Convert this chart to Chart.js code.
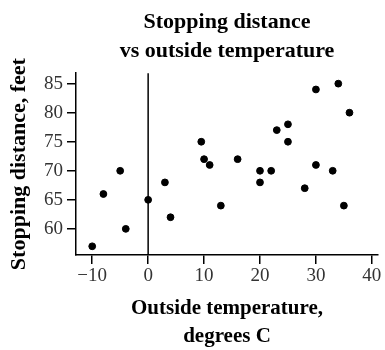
<!DOCTYPE html>
<html>
<head>
<meta charset="utf-8">
<script src="https://cdn.jsdelivr.net/npm/chart.js@4/dist/chart.umd.min.js"></script>
<style>
  html, body { margin: 0; padding: 0; background: #fff; }
  #wrap { width: 385px; height: 350px; }
</style>
</head>
<body>
<div id="wrap"><canvas id="myChart" width="385" height="350"></canvas></div>
<script>
// readings
const temperature = [-10, -8, -5, -4, 0, 3, 4, 9.5, 10, 11, 13, 16, 20, 20, 22, 23, 25, 25, 28, 30, 30, 33, 34, 35, 36];
const distance = [57, 66, 70, 60, 65, 68, 62, 75, 72, 71, 64, 72, 70, 68, 70, 77, 78, 75, 67, 84, 71, 70, 85, 64, 80];
const xTicks = [-10, 0, 10, 20, 30, 40];
const yTicks = [60, 65, 70, 75, 80, 85];

const serif = "'Liberation Serif', 'Times New Roman', serif";

const points = temperature.map((t, i) => ({ x: t, y: distance[i] }));

// vertical line at 0 degrees
const zeroLine = {
  id: "zeroLine",
  beforeDatasetsDraw(chart) {
    const { ctx, chartArea, scales } = chart;
    const x = scales.x.getPixelForValue(0);
    ctx.save();
    ctx.strokeStyle = "#000";
    ctx.lineWidth = 1.5;
    ctx.beginPath();
    ctx.moveTo(x, chartArea.top);
    ctx.lineTo(x, chartArea.bottom);
    ctx.stroke();
    ctx.restore();
  },
};

const config = {
  type: "scatter",
  data: {
    datasets: [
      {
        data: points,
        backgroundColor: "#000",
        borderColor: "#000",
        pointRadius: 3.4,
        pointHoverRadius: 3.4,
      },
    ],
  },
  options: {
    responsive: false,
    animation: false,
    layout: { padding: { left: 0, right: 7, top: 0, bottom: 0 } },
    plugins: {
      legend: { display: false },
      tooltip: { enabled: false },
      title: {
        display: true,
        fullSize: false,
        text: ["Stopping distance", "vs outside temperature"],
        color: "#000",
        font: { family: serif, size: 22, weight: "bold", lineHeight: 1.3 },
        padding: { top: 8, bottom: 8 },
      },
    },
    scales: {
      x: {
        type: "linear",
        min: -12.9,
        max: 41.1,
        afterBuildTicks: (s) => { s.ticks = xTicks.map((v) => ({ value: v })); },
        afterFit: (s) => { s.height = 95; },
        border: { display: true, color: "#000", width: 1.5 },
        grid: { drawOnChartArea: false, drawTicks: true, tickLength: 9, color: "#000", lineWidth: 1.5 },
        ticks: {
          color: "#333",
          font: { family: serif, size: 19 },
          padding: 1,
          maxRotation: 0,
          callback: (v) => (v < 0 ? "\u2212" + Math.abs(v) : String(v)),
        },
        title: {
          display: true,
          text: ["Outside temperature,", "degrees C"],
          color: "#000",
          font: { family: serif, size: 21, weight: "bold", lineHeight: 1.3 },
          padding: { top: 4, bottom: 0 },
        },
      },
      y: {
        type: "linear",
        min: 55.5,
        max: 86.8,
        afterBuildTicks: (s) => { s.ticks = yTicks.map((v) => ({ value: v })); },
        afterFit: (s) => { s.width = 76; },
        border: { display: true, color: "#000", width: 1.5 },
        grid: { drawOnChartArea: false, drawTicks: true, tickLength: 9, color: "#000", lineWidth: 1.5 },
        ticks: {
          color: "#333",
          font: { family: serif, size: 19 },
          padding: 4,
        },
        title: {
          display: true,
          text: "Stopping distance, feet",
          color: "#000",
          font: { family: serif, size: 22, weight: "bold", lineHeight: 1.2 },
          padding: { top: 6, bottom: 0 },
        },
      },
    },
  },
  plugins: [zeroLine],
};

const myChart = new Chart(document.getElementById("myChart"), config);
</script>
</body>
</html>
